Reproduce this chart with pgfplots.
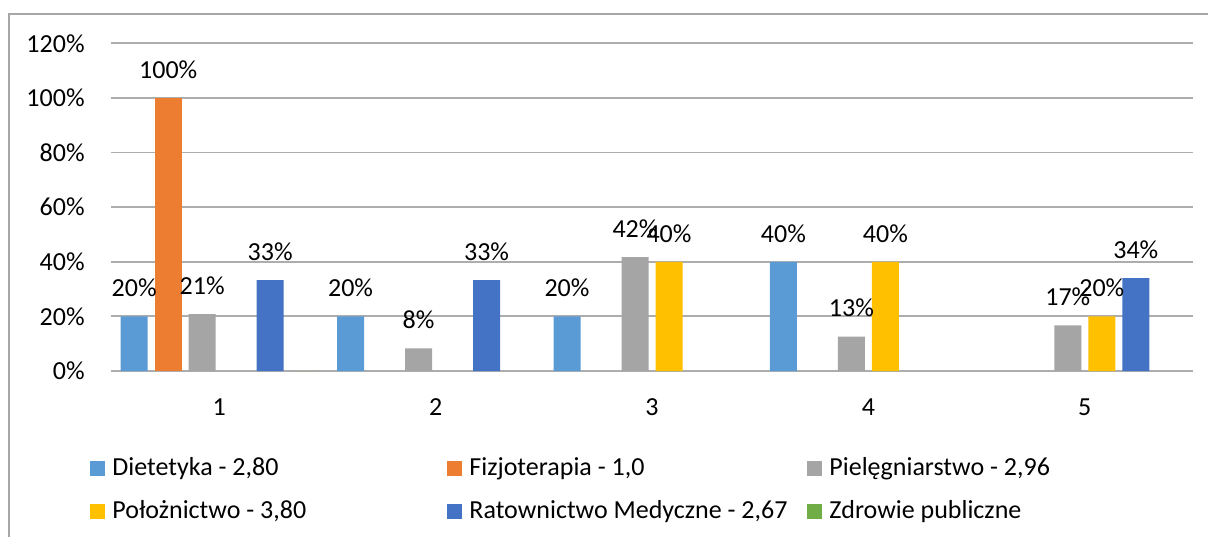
\documentclass[border=0pt]{standalone}
\usepackage{fontspec}
\setmainfont{Carlito}
\usepackage{pgfplots}
\pgfplotsset{compat=1.18}

\definecolor{cDiet}{HTML}{5B9BD5}
\definecolor{cFizjo}{HTML}{ED7D31}
\definecolor{cPiel}{HTML}{A5A5A5}
\definecolor{cPolo}{HTML}{FFC000}
\definecolor{cRat}{HTML}{4472C4}
\definecolor{cZdr}{HTML}{70AD47}
\definecolor{gridc}{HTML}{ADADAD}
\definecolor{framec}{HTML}{A6A6A6}

\pgfplotsset{
  mybar/.style={fill=#1, draw=none,
    legend image code/.code={\fill[##1] (0pt,-3.75pt) rectangle (7.5pt,3.75pt); \path (11pt,0pt);}},
}

\begin{document}
\fontsize{13pt}{15pt}\selectfont
\begin{tikzpicture}[font=\fontsize{13pt}{15pt}\selectfont]
\useasboundingbox (-55.5pt,-82.5pt) rectangle (548.5pt,185.5pt);
\clip (-55.5pt,-82.5pt) rectangle (548.5pt,185.5pt);
\draw[framec, line width=0.7pt] (-51pt,178.5pt) rectangle (560pt,-95pt);
\begin{axis}[
  at={(0pt,0pt)}, anchor=south west,
  scale only axis, width=541pt, height=163.85pt,
  ybar=3.5pt, bar width=13.5pt,
  xmin=0.5, xmax=5.5, ymin=0, ymax=120,
  xtick={1,2,3,4,5}, xticklabels={1,2,3,4,5},
  ytick={0,20,40,60,80,100,120},
  yticklabels={0\%,20\%,40\%,60\%,80\%,100\%,120\%},
  major tick length=0pt,
  axis line style={draw=none},
  ymajorgrids, major grid style={gridc, line width=0.9pt},
  xticklabel style={anchor=north, inner sep=0pt, yshift=-13.5pt},
  yticklabel style={anchor=east, inner sep=0pt, xshift=-13pt},
  /pgf/number format/assume math mode=true,
  nodes near coords={\pgfmathprintnumber[fixed,precision=0]{\pgfplotspointmeta}\%},
  every node near coord/.append style={anchor=south, inner sep=0pt, yshift=9.5pt, black},
  legend columns=3,
  legend style={at={(-0.0194,-0.264)}, anchor=north west, draw=none, fill=none,
    inner sep=0pt, column sep=0pt, row sep=10.5pt,
    nodes={inner sep=0pt}, cells={anchor=west}},
]
\addplot[mybar=cDiet] coordinates {(1,20) (2,20) (3,20) (4,40)};
\addlegendentry{\makebox[167.5pt][l]{Dietetyka - 2,80}}
\addplot[mybar=cFizjo] coordinates {(1,100)};
\addlegendentry{\makebox[169pt][l]{Fizjoterapia - 1,0}}
\addplot[mybar=cPiel] coordinates {(1,20.8) (2,8.3) (3,41.7) (4,12.6) (5,16.7)};
\addlegendentry{Pielęgniarstwo - 2,96}
\addplot[mybar=cPolo] coordinates {(3,40) (4,40) (5,20)};
\addlegendentry{\makebox[167.5pt][l]{Położnictwo - 3,80}}
\addplot[mybar=cRat] coordinates {(1,33.3) (2,33.3) (5,34)};
\addlegendentry{\makebox[169pt][l]{Ratownictwo Medyczne - 2,67}}
\addplot[mybar=cZdr, nodes near coords={}] coordinates {(1,0)};
\addlegendentry{Zdrowie publiczne}
\end{axis}
\end{tikzpicture}
\end{document}
